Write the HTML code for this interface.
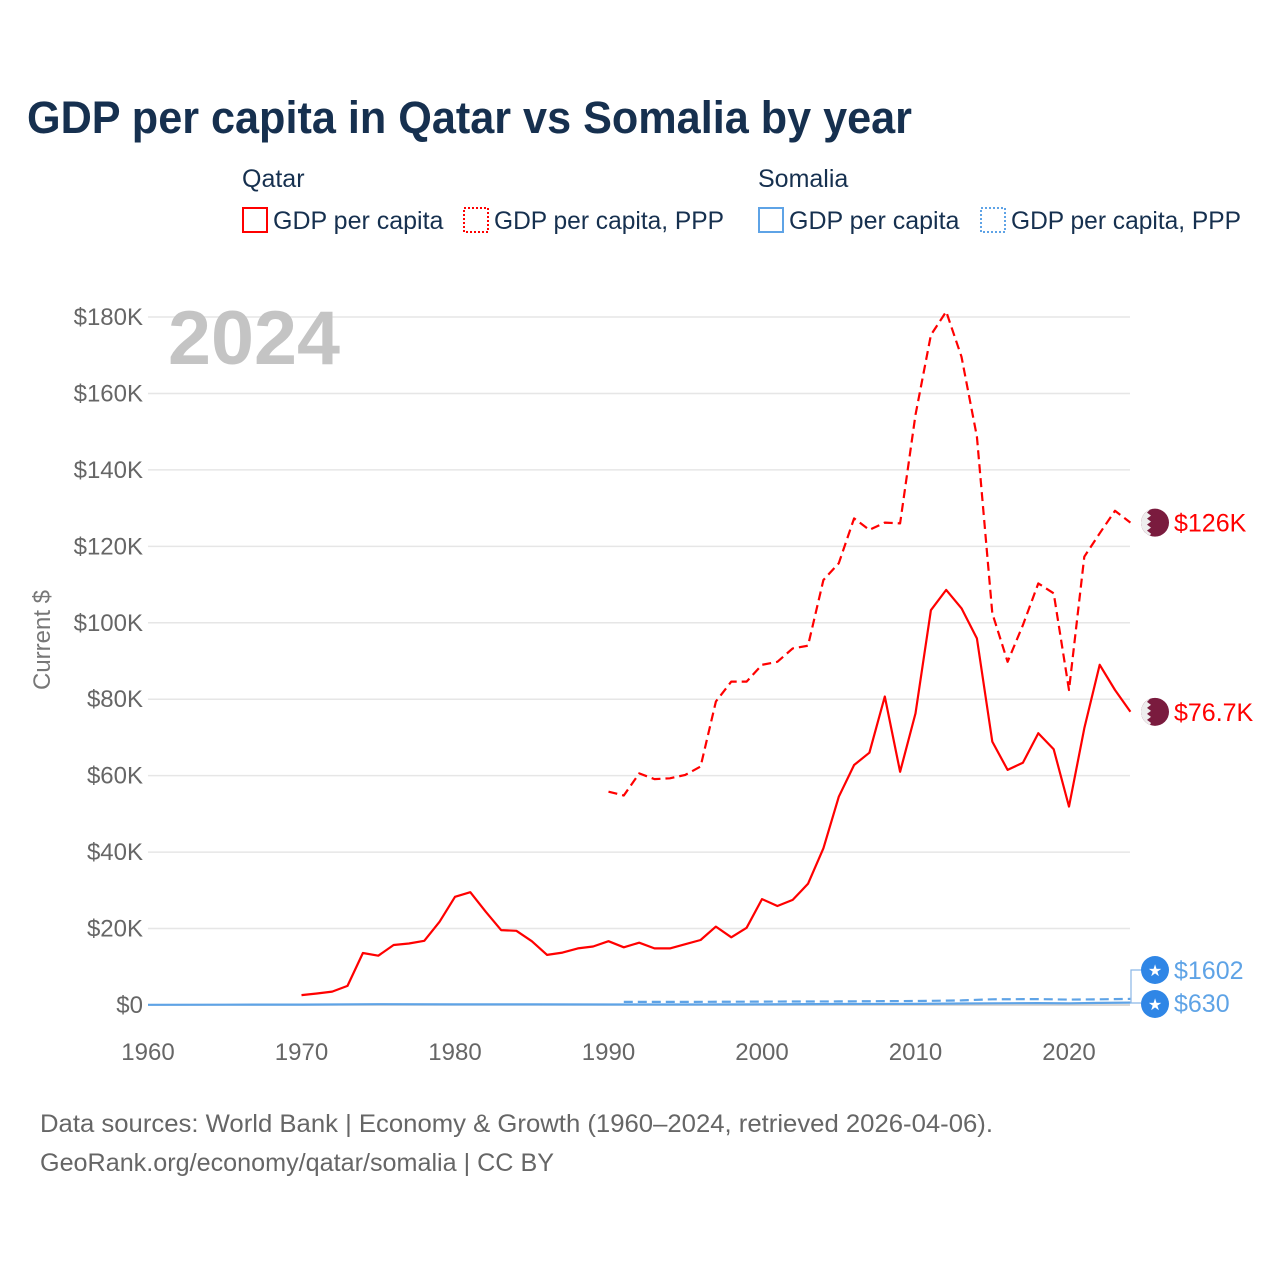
<!DOCTYPE html>
<html><head><meta charset="utf-8">
<style>
body{margin:0;background:#fff;}
svg{display:block;font-family:"Liberation Sans",sans-serif;}
</style></head>
<body>
<svg id="chart" width="1280" height="1280" viewBox="0 0 1280 1280" xmlns="http://www.w3.org/2000/svg">
<rect width="1280" height="1280" fill="#fff"/>
<text x="27" y="133" font-size="45" font-weight="bold" fill="#16304f" textLength="885" lengthAdjust="spacingAndGlyphs">GDP per capita in Qatar vs Somalia by year</text>
<g font-size="25" fill="#16304f">
  <text x="242" y="187">Qatar</text>
  <text x="758" y="187">Somalia</text>
  <g><rect x="243" y="208" width="24" height="24" fill="none" stroke="#ff0000" stroke-width="2"/><text x="273" y="229">GDP per capita</text></g>
  <g><rect x="464" y="208" width="24" height="24" fill="none" stroke="#ff0000" stroke-width="2" stroke-dasharray="2,2"/><text x="494" y="229" textLength="230" lengthAdjust="spacingAndGlyphs">GDP per capita, PPP</text></g>
  <g><rect x="759" y="208" width="24" height="24" fill="none" stroke="#5ea3e6" stroke-width="2"/><text x="789" y="229">GDP per capita</text></g>
  <g><rect x="981" y="208" width="24" height="24" fill="none" stroke="#5ea3e6" stroke-width="2" stroke-dasharray="2,2"/><text x="1011" y="229" textLength="230" lengthAdjust="spacingAndGlyphs">GDP per capita, PPP</text></g>
</g>
<g id="grid"></g>
<g id="yticks" font-size="24" fill="#666" text-anchor="end"></g>
<g id="xticks" font-size="24" fill="#666" text-anchor="middle"></g>
<text transform="translate(50,640) rotate(-90)" font-size="24" fill="#777" text-anchor="middle">Current $</text>
<text x="168" y="364" font-size="76" font-weight="bold" fill="#c4c4c4" textLength="172" lengthAdjust="spacingAndGlyphs">2024</text>
<g id="series"></g>
<g id="labels"></g>
<g font-size="25" fill="#666">
  <text x="40" y="1132" textLength="953" lengthAdjust="spacingAndGlyphs">Data sources: World Bank | Economy &amp; Growth (1960–2024, retrieved 2026-04-06).</text>
  <text x="40" y="1171" textLength="514" lengthAdjust="spacingAndGlyphs">GeoRank.org/economy/qatar/somalia | CC BY</text>
</g>
</svg>
<script>
const yTicks=[0,20000,40000,60000,80000,100000,120000,140000,160000,180000];
const yTickLabels=["$0","$20K","$40K","$60K","$80K","$100K","$120K","$140K","$160K","$180K"];
const xTicks=[1960,1970,1980,1990,2000,2010,2020];
const qatarGdpYears=[1970,1971,1972,1973,1974,1975,1976,1977,1978,1979,1980,1981,1982,1983,1984,1985,1986,1987,1988,1989,1990,1991,1992,1993,1994,1995,1996,1997,1998,1999,2000,2001,2002,2003,2004,2005,2006,2007,2008,2009,2010,2011,2012,2013,2014,2015,2016,2017,2018,2019,2020,2021,2022,2023,2024];
const qatarGdp=[2600,3000,3500,5000,13600,12900,15700,16100,16800,21800,28300,29500,24400,19600,19400,16700,13100,13700,14800,15300,16700,15100,16300,14800,14800,15900,17000,20500,17700,20200,27700,25900,27500,31700,41000,54500,62800,66000,80700,61000,76300,103300,108600,103800,95900,68900,61500,63400,71100,66900,51900,72400,89000,82400,76700];
const qatarPppYears=[1990,1991,1992,1993,1994,1995,1996,1997,1998,1999,2000,2001,2002,2003,2004,2005,2006,2007,2008,2009,2010,2011,2012,2013,2014,2015,2016,2017,2018,2019,2020,2021,2022,2023,2024];
const qatarPpp=[55800,54800,60600,59100,59300,60200,62400,79400,84600,84600,89000,89800,93300,94000,111200,115600,127300,124300,126200,126000,154400,175300,181400,169600,148700,102500,89800,99400,110300,107700,82400,117300,123400,129300,126200];
const somaliaGdpYears=[1960,1965,1970,1975,1980,1985,1990,1995,2000,2005,2010,2013,2015,2018,2020,2022,2024];
const somaliaGdp=[60,80,100,200,150,150,130,120,150,250,300,400,450,500,450,550,630];
const somaliaPppYears=[1991,1995,2000,2005,2010,2013,2015,2018,2020,2022,2024];
const somaliaPpp=[800,800,900,950,1050,1200,1500,1550,1400,1500,1602];

const X=y=>148+(y-1960)*15.35;
const Y=v=>1005-v/180000*688;
const NS="http://www.w3.org/2000/svg";
function mk(tag,attrs,parent){const e=document.createElementNS(NS,tag);for(const k in attrs)e.setAttribute(k,attrs[k]);parent.appendChild(e);return e;}
const grid=document.getElementById('grid'),yt=document.getElementById('yticks'),xt=document.getElementById('xticks'),ser=document.getElementById('series'),lab=document.getElementById('labels');
yTicks.forEach((v,i)=>{
  const l=mk('line',{x1:148,x2:1130,y1:Y(v),y2:Y(v),stroke:i==0?'#ccc':'#e6e6e6','stroke-width':1.5},grid);
  
  
  const t=mk('text',{x:143,y:Y(v)+8},yt);t.textContent=yTickLabels[i];
  
  
});
xTicks.forEach(y=>{
  const t=mk('text',{x:X(y),y:1060},xt);t.textContent=y;
  
  
});
function line(years,vals,color,dash,name){
  const d=years.map((y,i)=>(i?'L':'M')+X(y).toFixed(1)+','+Y(vals[i]).toFixed(1)).join('');
  const p=mk('path',{d:d,fill:'none',stroke:color,'stroke-width':2.2,'stroke-dasharray':dash||'none','stroke-linejoin':'round'},ser);
  
  
}
line(somaliaGdpYears,somaliaGdp,'#5ea3e6','', 'somalia-gdp-line');
line(somaliaPppYears,somaliaPpp,'#5ea3e6','9,5','somalia-ppp-line');
line(qatarPppYears,qatarPpp,'#ff0000','9,5','qatar-ppp-line');
line(qatarGdpYears,qatarGdp,'#ff0000','','qatar-gdp-line');

function qflag(cy,name){
  const g=mk('g',{},lab);
  
  
  mk('circle',{cx:1155,cy:cy,r:14,fill:'#7a1b3e'},g);
  mk('path',{d:`M1141,${cy} A14,14 0 0 1 1150,${cy-13} L1147,${cy-10} L1151,${cy-7} L1147,${cy-4} L1151,${cy-1} L1147,${cy+2} L1151,${cy+5} L1147,${cy+8} L1151,${cy+11} L1150,${cy+13} A14,14 0 0 1 1141,${cy}Z`,fill:'#eee'},g);
}
function sflag(cy,name){
  const g=mk('g',{},lab);
  
  
  mk('circle',{cx:1155,cy:cy,r:14,fill:'#2f86e6'},g);
  const t=mk('text',{x:1155,y:cy+6,'font-size':16,fill:'#fff','text-anchor':'middle'},g);t.textContent='★';
}
function lbl(y,txt,color,name){
  const t=mk('text',{x:1174,y:y+9,'font-size':25,fill:color},lab);t.textContent=txt;
  
  
}
const qP=Y(qatarPpp[qatarPpp.length-1]),qG=Y(qatarGdp[qatarGdp.length-1]);
qflag(qP,'qatar-ppp-marker');lbl(qP,'$126K','#ff0000','qatar-ppp-value');
qflag(qG,'qatar-gdp-marker');lbl(qG,'$76.7K','#ff0000','qatar-gdp-value');
const sP=Y(somaliaPpp[somaliaPpp.length-1]);
const leader=mk('path',{d:`M1130,${sP} L1131,${sP} L1131,970 L1141,970 M1131,${sP} L1131,1003 L1141,1003`,fill:'none',stroke:'#8ab6e6','stroke-width':1.2},lab);


sflag(970,'somalia-ppp-marker');lbl(970,'$1602','#5ea3e6','somalia-ppp-value');
sflag(1004,'somalia-gdp-marker');lbl(1003,'$630','#5ea3e6','somalia-gdp-value');
</script>
</body></html>
